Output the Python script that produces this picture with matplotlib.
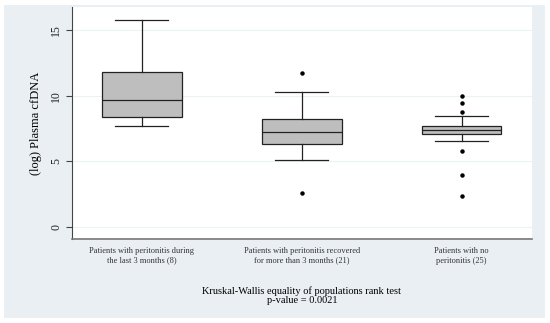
import matplotlib
matplotlib.use("Agg")
import matplotlib.pyplot as plt
from matplotlib.patches import Rectangle

# box statistics
groups = ["Patients with peritonitis during\nthe last 3 months (8)",
          "Patients with peritonitis recovered\nfor more than 3 months (21)",
          "Patients with no\nperitonitis (25)"]
whis_low = [7.72, 5.15, 6.57]
q1 = [8.35, 6.30, 7.06]
median = [9.67, 7.26, 7.36]
q3 = [11.83, 8.20, 7.69]
whis_high = [15.8, 10.26, 8.48]
outliers = [[], [11.7, 2.64], [9.98, 9.42, 8.73, 5.81, 3.96, 2.38]]
yticks = [0, 5, 10, 15]

bg = "#e9eff2"
plt.rcParams["font.family"] = ["Liberation Serif", "DejaVu Serif"]

fig = plt.figure(figsize=(5.5, 3.23), dpi=100)
fig.patches.append(Rectangle((0.007, 0.0155), 0.984, 0.969, transform=fig.transFigure,
                             facecolor=bg, edgecolor="none", zorder=-10))
ax = fig.add_axes([0.131, 0.26, 0.836, 0.718])
ax.set_facecolor("white")

stats = [dict(whislo=w0, q1=a, med=m, q3=b, whishi=w1, fliers=f, label=g)
         for w0, a, m, b, w1, f, g in zip(whis_low, q1, median, q3, whis_high, outliers, groups)]
ax.bxp(stats, positions=[1, 2, 3], widths=0.5, patch_artist=True, showcaps=True,
       boxprops=dict(facecolor="#bebebe", edgecolor="#222222", linewidth=0.9),
       medianprops=dict(color="#222222", linewidth=0.9),
       whiskerprops=dict(color="#222222", linewidth=0.9),
       capprops=dict(color="#222222", linewidth=0.9),
       capwidths=0.33,
       flierprops=dict(marker="o", markersize=2.2, markerfacecolor="black",
                       markeredgecolor="black", linestyle="none"))

ax.set_xlim(0.564, 3.44)
ax.set_ylim(-0.9, 16.75)
ax.set_yticks(yticks)
ax.set_yticklabels([str(t) for t in yticks], rotation=90, va="center", fontsize=8.5)
ax.grid(axis="y", color="#eaf2f3", linewidth=0.8)
ax.set_axisbelow(True)
ax.tick_params(axis="y", length=4, color="#444444", pad=3, labelcolor="#222222")
ax.tick_params(axis="x", length=0, labelsize=6, pad=6, labelcolor="#333333")
ax.set_ylabel("(log) Plasma cfDNA", fontsize=9, labelpad=6)

for s in ["top", "right"]:
    ax.spines[s].set_visible(False)
ax.spines["left"].set_color("#444444")
ax.spines["bottom"].set_color("#777777")
ax.spines["bottom"].set_linewidth(1.2)

fig.text(0.549, 0.085, "Kruskal-Wallis equality of populations rank test\np-value = 0.0021",
         ha="center", va="center", fontsize=7.5, linespacing=1.0)

fig.savefig("out.png", dpi=100)
